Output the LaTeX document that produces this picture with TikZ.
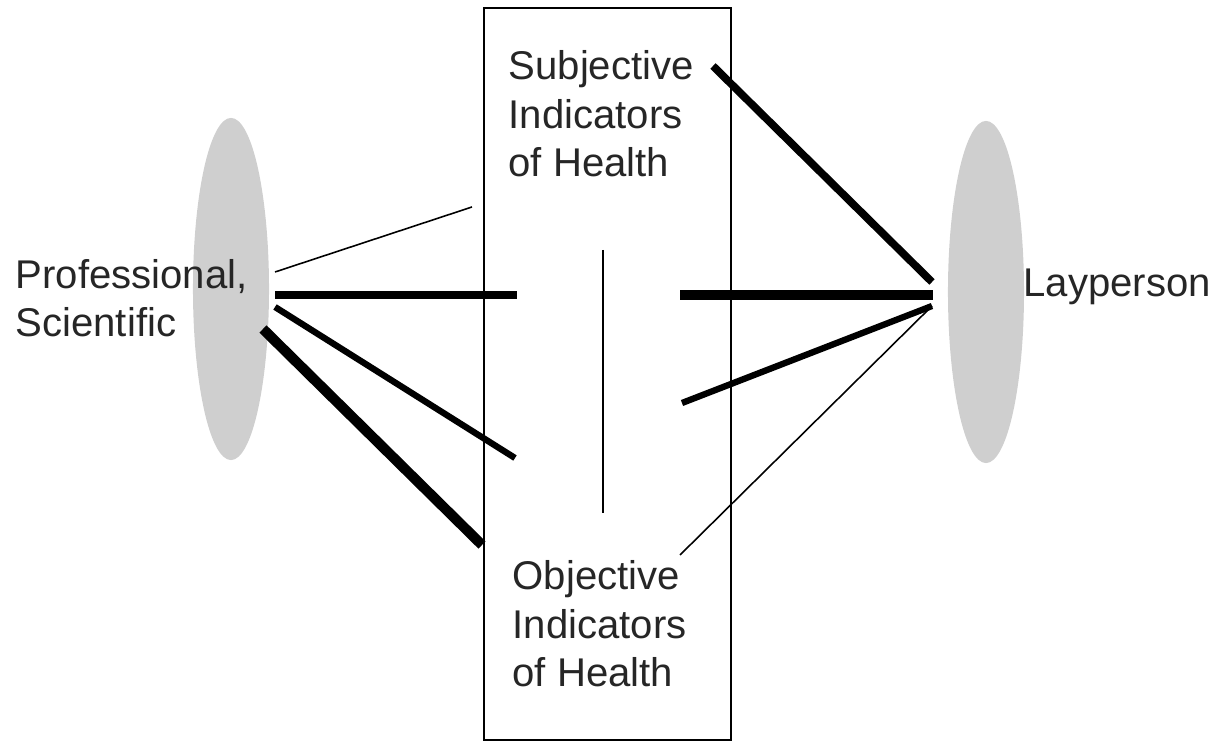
\documentclass[tikz,border=0pt]{standalone}
\usepackage{fontspec}
\setmainfont{Liberation Sans}
\usetikzlibrary{shapes,positioning,calc}

\begin{document}
\begin{tikzpicture}[x=0.01cm,y=-0.01cm,
        lbl/.style={inner sep=0pt,align=left,anchor=base west,text=black!85,
            font=\fontsize{11.4}{13.9}\selectfont},
        blob/.style={ellipse,fill=black!19,inner sep=0pt,minimum width=0.76cm,minimum height=3.42cm},
        thinline/.style={line width=0.45pt},
        midline/.style={line width=1.8pt},
        boldline/.style={line width=2.2pt},
        heavyline/.style={line width=2.9pt}]
        \useasboundingbox (0,0) rectangle (1217,743);
        % groups
        \node[blob] (pro) at (231,289) {};
        \node[blob] (lay) at (986,292) {};
        \node[draw,line width=0.6pt,minimum width=2.47cm,minimum height=7.32cm,inner sep=0pt] (box) at (607.5,374) {};
        % labels (anchored at the last baseline)
        \node[lbl] (prot) at (15,337) {Professional,\\Scientific};
        \node[lbl] (layt) at (1023,297) {Layperson};
        \node[lbl] (subj) at (508,177) {Subjective\\Indicators\\of Health};
        \node[lbl] (obj) at (512,687) {Objective\\Indicators\\of Health};
        % line ends
        \coordinate (a1) at (275,272);
        \coordinate (a2) at (275,295);
        \coordinate (a3) at (275,307);
        \coordinate (a4) at (263,329);
        \coordinate (b1) at (472,207);
        \coordinate (b2) at (517,295);
        \coordinate (b3) at (515,458);
        \coordinate (b4) at (482,545);
        \coordinate (c1) at (713,66);
        \coordinate (c2) at (680,295);
        \coordinate (c3) at (682,403);
        \coordinate (c4) at (680,555);
        \coordinate (d1) at (932,282);
        \coordinate (d2) at (933,295);
        \coordinate (d3) at (932,306);
        \coordinate (m1) at (603,250);
        \coordinate (m2) at (603,513);
        % links
        \draw[thinline] (a1) -- (b1);
        \draw[boldline] (a2) -- (b2);
        \draw[midline] (a3) -- (b3);
        \draw[heavyline] (a4) -- (b4);
        \draw[boldline] (c1) -- (d1);
        \draw[heavyline] (c2) -- (d2);
        \draw[midline] (c3) -- (d3);
        \draw[thinline] (c4) -- (d3);
        \draw[line width=0.6pt] (m1) -- (m2);
\end{tikzpicture}
\end{document}
